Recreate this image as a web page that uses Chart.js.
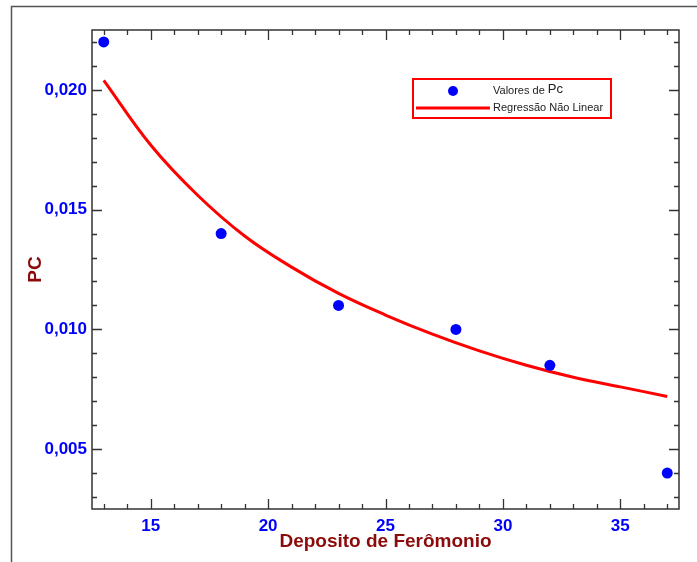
<!DOCTYPE html>
<html>
<head>
<meta charset="utf-8">
<script src="https://cdn.jsdelivr.net/npm/chart.js@4.4.1/dist/chart.umd.min.js"></script>
<style>
  html, body { margin: 0; padding: 0; background: #fff; }
  #wrap { width: 697px; height: 562px; }
</style>
</head>
<body>
<div id="wrap"><canvas id="chart" width="697" height="562"></canvas></div>
<script>
// measured Pc values per pheromone deposit
const depositos = [13, 18, 23, 28, 32, 37];
const pcValores = [0.022, 0.014, 0.011, 0.010, 0.0085, 0.004];

// nonlinear regression curve, sampled along the deposit axis
const curvaX = [13, 15, 17, 19, 21, 23, 25, 27, 29, 31, 33, 35, 37];
const curvaY = [0.0204, 0.0177, 0.0156, 0.0139, 0.0126, 0.0115, 0.0106, 0.0098, 0.0091, 0.0085, 0.0080, 0.0076, 0.0072];

const xTicks = [15, 20, 25, 30, 35];
const yTicks = [0.005, 0.010, 0.015, 0.020];

const FONT = "'Liberation Sans', Arial, sans-serif";
const BLUE = '#0000FF';
const RED = '#FF0000';
const MAROON = '#8B0A0A';

// box, inward ticks on all four sides and the legend
const molduraPlugin = {
  id: 'moldura',
  afterDraw(chart) {
    const ctx = chart.ctx;
    const a = chart.chartArea;
    const xs = chart.scales.x, ys = chart.scales.y;
    ctx.save();

    // outer frame (left and top edges)
    ctx.strokeStyle = '#555';
    ctx.lineWidth = 1.5;
    ctx.beginPath();
    ctx.moveTo(11.5, 562);
    ctx.lineTo(11.5, 6.5);
    ctx.lineTo(697, 6.5);
    ctx.stroke();

    // plot box
    ctx.strokeStyle = '#333';
    ctx.lineWidth = 1.5;
    ctx.strokeRect(a.left, a.top, a.width, a.height);

    ctx.lineWidth = 1.3;
    ctx.beginPath();
    for (let v = Math.ceil(xs.min); v <= xs.max; v++) {
      const px = Math.round(xs.getPixelForValue(v)) + 0.5;
      const len = v % 5 === 0 ? 10 : 5;
      ctx.moveTo(px, a.bottom); ctx.lineTo(px, a.bottom - len);
      ctx.moveTo(px, a.top); ctx.lineTo(px, a.top + len);
    }
    for (let k = Math.ceil(ys.min * 1000); k <= ys.max * 1000; k++) {
      const py = Math.round(ys.getPixelForValue(k / 1000)) + 0.5;
      const len = k % 5 === 0 ? 10 : 5;
      ctx.moveTo(a.left, py); ctx.lineTo(a.left + len, py);
      ctx.moveTo(a.right, py); ctx.lineTo(a.right - len, py);
    }
    ctx.stroke();

    // legend
    const lx = 413, ly = 79, lw = 198, lh = 39;
    ctx.strokeStyle = RED;
    ctx.lineWidth = 2;
    ctx.strokeRect(lx, ly, lw, lh);

    const pts = chart.data.datasets[0];
    ctx.fillStyle = pts.backgroundColor;
    ctx.beginPath();
    ctx.arc(453, 91, 5, 0, Math.PI * 2);
    ctx.fill();

    ctx.strokeStyle = RED;
    ctx.lineWidth = 3;
    ctx.beginPath();
    ctx.moveTo(416, 108); ctx.lineTo(490, 108);
    ctx.stroke();

    ctx.fillStyle = '#222';
    ctx.textBaseline = 'middle';
    ctx.textAlign = 'left';
    ctx.font = '11px ' + FONT;
    ctx.fillText('Valores de ', 493, 91);
    const w = ctx.measureText('Valores de ').width;
    ctx.font = '13px ' + FONT;
    ctx.fillText('Pc', 493 + w, 89);
    ctx.font = '11px ' + FONT;
    ctx.fillText(chart.data.datasets[1].label, 493, 108);

    ctx.restore();
  }
};

const fmt = v => v.toFixed(3).replace('.', ',');

new Chart(document.getElementById('chart'), {
  type: 'scatter',
  data: {
    datasets: [
      {
        label: 'Valores de Pc',
        data: depositos.map((x, i) => ({ x: x, y: pcValores[i] })),
        backgroundColor: BLUE,
        borderColor: BLUE,
        pointRadius: 5.5,
        pointBorderWidth: 0,
        order: 0
      },
      {
        label: 'Regressão Não Linear',
        data: curvaX.map((x, i) => ({ x: x, y: curvaY[i] })),
        showLine: true,
        borderColor: RED,
        borderWidth: 3,
        pointRadius: 0,
        tension: 0.4,
        fill: false,
        order: 1
      }
    ]
  },
  options: {
    responsive: false,
    animation: false,
    devicePixelRatio: 1,
    layout: { padding: { left: 20, top: 30, right: 18, bottom: 0 } },
    plugins: {
      legend: { display: false },
      tooltip: { enabled: false }
    },
    scales: {
      x: {
        type: 'linear',
        min: 12.5,
        max: 37.5,
        grid: { display: false, drawTicks: false },
        border: { display: false },
        afterBuildTicks: s => { s.ticks = xTicks.map(v => ({ value: v })); },
        afterFit: s => { s.height = 53; },
        ticks: {
          color: BLUE,
          padding: 7,
          maxRotation: 0,
          font: { family: FONT, size: 17, weight: 'bold' },
          callback: v => String(v)
        },
        title: {
          display: true,
          text: 'Deposito de Ferômonio',
          color: MAROON,
          font: { family: FONT, size: 19, weight: 'bold' },
          padding: { top: 0, bottom: 9 }
        }
      },
      y: {
        type: 'linear',
        min: 0.0025,
        max: 0.0225,
        grid: { display: false, drawTicks: false },
        border: { display: false },
        afterBuildTicks: s => { s.ticks = yTicks.map(v => ({ value: v })); },
        afterFit: s => { s.width = 72; },
        ticks: {
          color: BLUE,
          padding: 5,
          font: { family: FONT, size: 17, weight: 'bold' },
          callback: v => fmt(v)
        },
        title: {
          display: true,
          text: 'PC',
          color: MAROON,
          font: { family: FONT, size: 19, weight: 'bold' },
          padding: { top: 4, bottom: 0 }
        }
      }
    }
  },
  plugins: [molduraPlugin]
});
</script>
</body>
</html>
